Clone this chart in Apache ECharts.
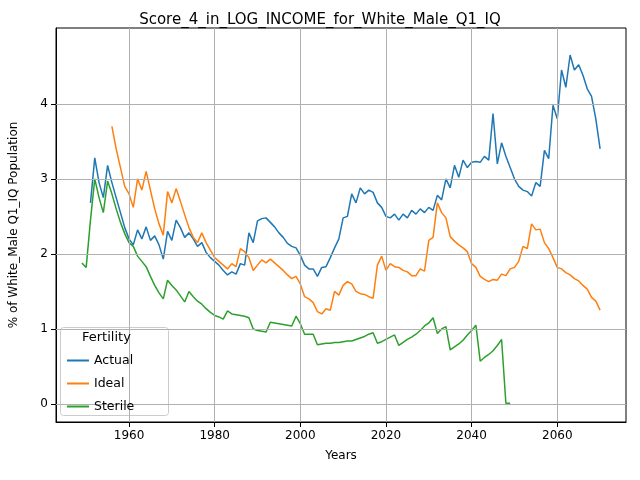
<!DOCTYPE html>
<html><head><meta charset="utf-8">
<script src="https://cdn.jsdelivr.net/npm/echarts@6/dist/echarts.min.js"></script>
<style>body{margin:0}#c{width:640px;height:480px}</style></head>
<body><div id="c"></div>
<script>
var actualStart = 1951;
var actual = [2.68,3.28,2.95,2.75,3.18,2.95,2.75,2.55,2.35,2.2,2.12,2.32,2.2,2.36,2.18,2.24,2.12,1.93,2.3,2.18,
  2.45,2.35,2.22,2.28,2.2,2.1,2.15,2.02,1.95,1.9,1.85,1.78,1.72,1.76,1.73,1.87,1.85,2.28,2.15,2.44,
  2.47,2.48,2.42,2.36,2.28,2.22,2.14,2.1,2.08,1.98,1.85,1.8,1.8,1.7,1.82,1.83,1.95,2.08,2.2,2.48,
  2.5,2.8,2.68,2.88,2.8,2.85,2.82,2.68,2.62,2.5,2.48,2.53,2.45,2.53,2.48,2.58,2.53,2.6,2.55,2.62,
  2.58,2.78,2.72,3.0,2.88,3.18,3.02,3.25,3.15,3.22,3.23,3.22,3.3,3.25,3.87,3.2,3.48,3.3,3.15,3.0,
  2.9,2.85,2.83,2.77,2.95,2.9,3.38,3.27,3.98,3.8,4.45,4.22,4.65,4.45,4.52,4.38,4.2,4.1,3.8,3.4];
var idealStart = 1956;
var ideal = [3.7,3.4,3.15,2.9,2.8,2.62,3.0,2.85,3.1,2.85,2.6,2.4,2.25,2.83,2.68,2.87,2.7,2.52,2.35,2.22,
  2.15,2.28,2.15,2.05,1.95,1.9,1.85,1.8,1.87,1.83,2.07,2.03,1.95,1.78,1.85,1.92,1.88,1.93,1.88,1.83,
  1.78,1.72,1.67,1.7,1.6,1.43,1.4,1.35,1.23,1.2,1.27,1.25,1.5,1.45,1.58,1.63,1.6,1.5,1.47,1.46,
  1.43,1.41,1.85,1.97,1.78,1.87,1.83,1.82,1.78,1.76,1.71,1.71,1.8,1.77,2.18,2.22,2.68,2.55,2.48,2.23,
  2.17,2.12,2.08,2.03,1.87,1.82,1.7,1.66,1.63,1.66,1.65,1.73,1.71,1.8,1.82,1.9,2.1,2.07,2.4,2.32,
  2.33,2.15,2.07,1.95,1.82,1.8,1.75,1.72,1.67,1.64,1.58,1.53,1.42,1.37,1.25];
var sterileStart = 1949;
var sterile = [1.88,1.82,2.45,3.0,2.75,2.55,2.97,2.8,2.6,2.42,2.27,2.15,2.1,1.97,1.9,1.83,1.7,1.58,1.48,1.4,
  1.65,1.58,1.52,1.44,1.36,1.5,1.43,1.37,1.33,1.27,1.22,1.18,1.16,1.13,1.24,1.2,1.19,1.18,1.17,1.15,
  1.0,0.98,0.97,0.96,1.09,1.08,1.07,1.06,1.05,1.04,1.17,1.07,0.93,0.93,0.93,0.79,0.8,0.81,0.81,0.82,
  0.82,0.83,0.84,0.84,0.86,0.88,0.9,0.93,0.95,0.81,0.83,0.86,0.89,0.92,0.78,0.82,0.86,0.89,0.93,0.98,
  1.04,1.08,1.15,0.94,1.0,1.03,0.72,0.76,0.8,0.85,0.92,0.98,1.05,0.57,0.62,0.66,0.71,0.78,0.86,0.01,0.01];
var xTicks = [1960,1980,2000,2020,2040,2060];
var yTicks = [0,1,2,3,4];

function pairs(start, vals) { return vals.map(function (v, i) { return [start + i, v]; }); }
var font = 'DejaVu Sans';
var chart = echarts.init(document.getElementById('c'));
var gridLines = xTicks.map(function (t) { return { xAxis: t }; })
  .concat(yTicks.map(function (t) { return { yAxis: t }; }));
function line(name, color, start, vals) {
  return { name: name, type: 'line', data: pairs(start, vals), showSymbol: false, symbol: 'none',
    lineStyle: { color: color, width: 1.5 }, itemStyle: { color: color }, animation: false, z: 3 };
}
chart.setOption({
  animation: false,
  textStyle: { fontFamily: font },
  title: { text: 'Score_4_in_LOG_INCOME_for_White_Male_Q1_IQ', left: 'center', top: 8,
    textStyle: { fontFamily: font, fontSize: 15, fontWeight: 'normal', color: '#000' } },
  grid: { left: 54, right: 14, top: 28, bottom: 58, show: true, borderColor: '#000', borderWidth: 1, backgroundColor: 'transparent' },
  xAxis: { type: 'value', min: 1942.95, max: 2076.05, name: 'Years', nameLocation: 'middle', nameGap: 28,
    nameTextStyle: { color: '#000', fontSize: 12 },
    axisLine: { onZero: false, lineStyle: { color: '#000' } },
    axisTick: { customValues: xTicks, lineStyle: { color: '#000' } },
    axisLabel: { customValues: xTicks, color: '#000', fontSize: 12, formatter: function (v) { return String(v); } },
    splitLine: { show: false } },
  yAxis: { type: 'value', min: -0.24, max: 5.01, name: '% of White_Male Q1_IQ Population', nameLocation: 'middle', nameGap: 36,
    nameTextStyle: { color: '#000', fontSize: 12 },
    axisLine: { show: true, lineStyle: { color: '#000' } },
    axisTick: { show: true, customValues: yTicks, lineStyle: { color: '#000' } },
    axisLabel: { customValues: yTicks, color: '#000', fontSize: 12, formatter: function (v) { return String(v); } },
    splitLine: { show: false } },
  legend: { orient: 'vertical', left: 62, top: 349, itemWidth: 22, itemHeight: 2, itemGap: 10, z: 30,
    icon: 'rect', textStyle: { fontSize: 12.5, color: '#000' },
    data: ['Actual', 'Ideal', 'Sterile'] },
  graphic: [
    { type: 'rect', left: 60, top: 327, z: 5, shape: { width: 108, height: 88, r: 3 },
      style: { fill: 'rgba(255,255,255,0.85)', stroke: '#ccc', lineWidth: 1 } },
    { type: 'text', left: 82, top: 331, z: 6, style: { text: 'Fertility', font: '13px DejaVu Sans', fill: '#000' } }
  ],
  series: [
    line('Actual', '#1f77b4', actualStart, actual),
    line('Ideal', '#ff7f0e', idealStart, ideal),
    line('Sterile', '#2ca02c', sterileStart, sterile),
    { type: 'line', data: [], silent: true, z: 1,
      markLine: { symbol: 'none', silent: true, label: { show: false }, animation: false,
        lineStyle: { color: '#b0b0b0', type: 'solid', width: 1 }, data: gridLines } }
  ]
});
</script></body></html>
